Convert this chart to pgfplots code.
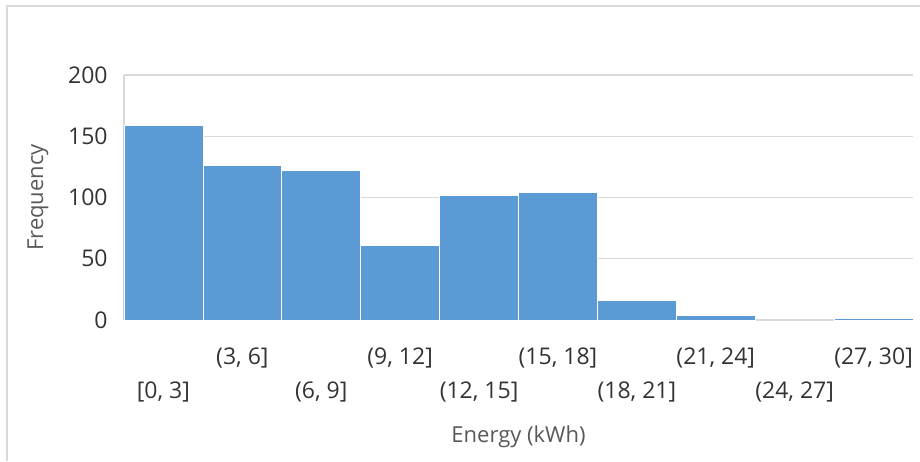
\documentclass[border=0pt]{standalone}
\usepackage{fontspec}
\setmainfont{Open Sans}
\usepackage{pgfplots}
\pgfplotsset{compat=1.18}
\definecolor{barblue}{HTML}{5B9BD5}
\definecolor{gridgray}{HTML}{D9D9D9}
\definecolor{tickcol}{HTML}{333333}
\definecolor{titlecol}{HTML}{595959}
\definecolor{bordergray}{HTML}{D9D9D9}
\begin{document}
\begin{tikzpicture}[font=\fontsize{11.5}{14}\selectfont]
\begin{axis}[
  at={(0,0)}, anchor=south west,
  scale only axis, width=394.5pt, height=122.5pt,
  xmin=0, xmax=10, ymin=0, ymax=200,
  ytick={0,50,...,200},
  ymajorgrids, grid style={draw=gridgray, line width=0.6pt},
  axis x line*=bottom, axis y line*=left,
  axis line style={-, draw=gridgray, line width=0.6pt},
  major tick length=0pt,
  /pgf/number format/assume math mode=true,
  yticklabel style={anchor=east, inner sep=0pt, xshift=-8pt, text=tickcol, font=\fontsize{11.5}{14}\selectfont},
  xtick={0.5,1.5,...,9.5},
  xticklabels={
    {\strut\\{}\strut[0, 3]},
    {\strut(3, 6]\\\strut},
    {\strut\\{}\strut(6, 9]},
    {\strut(9, 12]\\\strut},
    {\strut\\{}\strut(12, 15]},
    {\strut(15, 18]\\\strut},
    {\strut\\{}\strut(18, 21]},
    {\strut(21, 24]\\\strut},
    {\strut\\{}\strut(24, 27]},
    {\strut(27, 30]\\\strut}},
  xticklabel style={align=center, anchor=north, inner sep=0pt, yshift=-10pt, text=tickcol, font=\fontsize{11.5}{17}\selectfont},
  ylabel={Frequency},
  ylabel style={at={(axis description cs:-0.109,0.5)}, anchor=center, text=titlecol, font=\fontsize{11}{13}\selectfont},
  xlabel={Energy (kWh)},
  xlabel style={at={(axis description cs:0.5,-0.4776)}, anchor=center, text=titlecol, font=\fontsize{11}{13}\selectfont},
]
% bins (0..8): counts; bin (24,27] has 0 and is left empty
\addplot[ybar interval, fill=barblue, draw=white, line width=0.4pt]
  coordinates {(0,159) (1,126) (2,122) (3,61) (4,102) (5,104) (6,16) (7,3.5) (8,3.5)};
\addplot[ybar interval, fill=barblue, draw=white, line width=0.4pt]
  coordinates {(9,1.5) (10,1.5)};
\end{axis}
\draw[bordergray, line width=0.6pt] (-58.5pt,-70.5pt) -- (-58.5pt,157pt) -- (398pt,157pt);
\pgfresetboundingbox
\useasboundingbox (-62pt,-70.5pt) rectangle (398pt,160pt);
\end{tikzpicture}
\end{document}
